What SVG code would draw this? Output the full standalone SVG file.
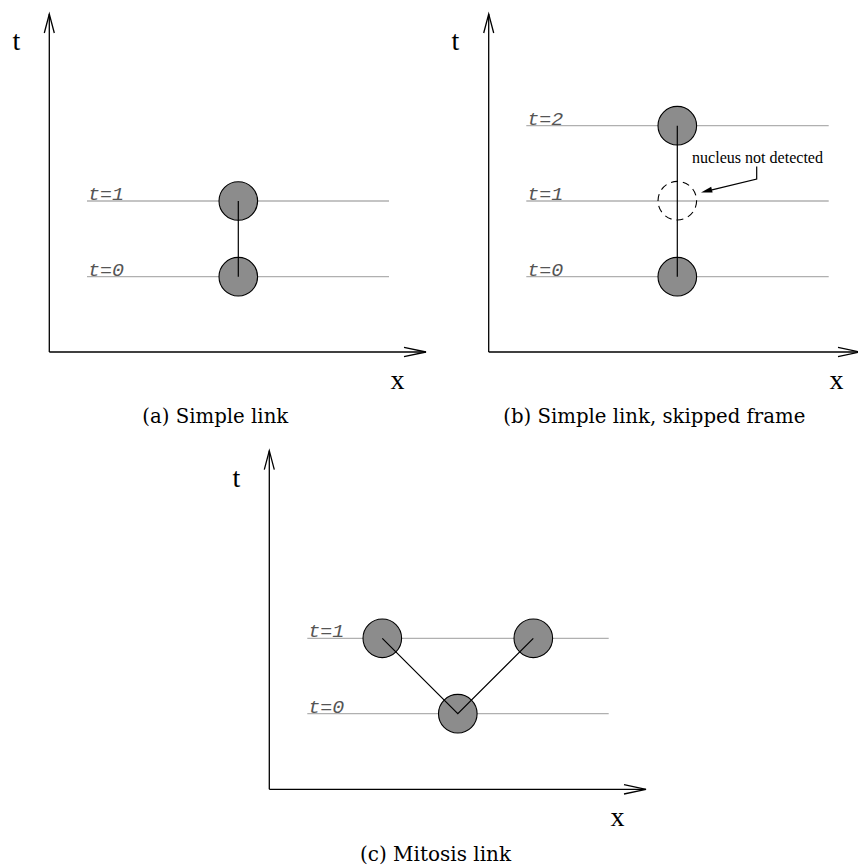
<svg xmlns="http://www.w3.org/2000/svg" width="858" height="867" viewBox="0 0 858 867">
<style>
.axis{stroke:#000;stroke-width:1.3;fill:none}
.grid{stroke:#b0b0b0;stroke-width:1.3}
.cell{fill:#8c8c8c;stroke:#000;stroke-width:1.1}
.link{stroke:#000;stroke-width:1.2;fill:none}
.lvl{font-family:"Liberation Mono",monospace;font-style:italic;font-size:18px;fill:#555}
.ax{font-family:"Liberation Serif",serif;font-size:28px;fill:#000}
.cap{font-family:"DejaVu Serif","Liberation Serif",serif;font-size:20px;fill:#000}
.note{font-family:"Liberation Serif",serif;font-size:16px;fill:#000}
</style>
<rect width="858" height="867" fill="#fff"/>

<!-- Panel (a) -->
<g id="panel-a">
  <g id="a-axes">
    <line class="axis" x1="49.3" y1="352" x2="49.3" y2="14"/>
    <polyline class="axis" points="44.3,33 49.3,14 54.3,33"/>
    <line class="axis" x1="49.3" y1="352" x2="426" y2="352"/>
    <polyline class="axis" points="404,347.3 426,352 404,356.7"/>
    <text class="ax" x="12.5" y="50">t</text>
    <text class="ax" x="390.5" y="389">x</text>
  </g>
  <g id="a-levels">
    <line class="grid" x1="87" y1="201" x2="389" y2="201"/>
    <line class="grid" x1="87" y1="276.7" x2="389" y2="276.7"/>
    <text class="lvl" x="88" y="200" textLength="36" lengthAdjust="spacingAndGlyphs">t=1</text>
    <text class="lvl" x="88" y="275.7" textLength="36" lengthAdjust="spacingAndGlyphs">t=0</text>
  </g>
  <g id="a-n1"><circle class="cell" cx="238.3" cy="201" r="19.3"/></g>
  <g id="a-n0"><circle class="cell" cx="238.3" cy="276.7" r="19.3"/></g>
  <g id="a-connectors">
    <line class="link" x1="238.3" y1="201" x2="238.3" y2="276.7"/>
  </g>
  <text class="cap" x="142.3" y="423" textLength="146" lengthAdjust="spacingAndGlyphs">(a) Simple link</text>
</g>

<!-- Panel (b) -->
<g id="panel-b">
  <g id="b-axes">
    <line class="axis" x1="488.7" y1="352" x2="488.7" y2="14"/>
    <polyline class="axis" points="483.7,33 488.7,14 493.7,33"/>
    <line class="axis" x1="488.7" y1="352" x2="860" y2="352"/>
    <polyline class="axis" points="838,347.3 860,352 838,356.7"/>
    <text class="ax" x="451.5" y="50">t</text>
    <text class="ax" x="829.5" y="389">x</text>
  </g>
  <g id="b-levels">
    <line class="grid" x1="526.3" y1="125.7" x2="828.7" y2="125.7"/>
    <line class="grid" x1="526.3" y1="201" x2="828.7" y2="201"/>
    <line class="grid" x1="526.3" y1="276.7" x2="828.7" y2="276.7"/>
    <text class="lvl" x="527.3" y="124.7" textLength="36" lengthAdjust="spacingAndGlyphs">t=2</text>
    <text class="lvl" x="527.3" y="200" textLength="36" lengthAdjust="spacingAndGlyphs">t=1</text>
    <text class="lvl" x="527.3" y="275.7" textLength="36" lengthAdjust="spacingAndGlyphs">t=0</text>
  </g>
  <g id="b-n2"><circle class="cell" cx="677.3" cy="125.7" r="19.3"/></g>
  <g id="b-n1-missing"><circle cx="677.3" cy="200.7" r="19.3" fill="none" stroke="#000" stroke-width="1.1" stroke-dasharray="7 5"/></g>
  <g id="b-n0"><circle class="cell" cx="677.3" cy="276.7" r="19.3"/></g>
  <g id="b-connectors">
    <line class="link" x1="677.3" y1="125.7" x2="677.3" y2="276.7"/>
    <polyline class="link" stroke-width="1.1" points="756.7,166.5 756.7,179 712,189.8"/>
    <polygon points="701,192.5 712.6,192.6 711.2,186.8" fill="#000"/>
  </g>
  <text class="note" x="692" y="163" textLength="131" lengthAdjust="spacingAndGlyphs">nucleus not detected</text>
  <text class="cap" x="503.3" y="423" textLength="302" lengthAdjust="spacingAndGlyphs">(b) Simple link, skipped frame</text>
</g>

<!-- Panel (c) -->
<g id="panel-c">
  <g id="c-axes">
    <line class="axis" x1="269.3" y1="789.3" x2="269.3" y2="450.7"/>
    <polyline class="axis" points="264.3,469.7 269.3,450.7 274.3,469.7"/>
    <line class="axis" x1="269.3" y1="789.3" x2="646" y2="789.3"/>
    <polyline class="axis" points="624,784.6 646,789.3 624,794"/>
    <text class="ax" x="232.5" y="486.7">t</text>
    <text class="ax" x="610.5" y="826">x</text>
  </g>
  <g id="c-levels">
    <line class="grid" x1="307.3" y1="638.3" x2="608.7" y2="638.3"/>
    <line class="grid" x1="307.3" y1="713.7" x2="608.7" y2="713.7"/>
    <text class="lvl" x="308.3" y="637.3" textLength="36" lengthAdjust="spacingAndGlyphs">t=1</text>
    <text class="lvl" x="308.3" y="712.7" textLength="36" lengthAdjust="spacingAndGlyphs">t=0</text>
  </g>
  <g id="c-n1a"><circle class="cell" cx="382.3" cy="638.3" r="19.3"/></g>
  <g id="c-n1b"><circle class="cell" cx="533.3" cy="638.3" r="19.3"/></g>
  <g id="c-n0"><circle class="cell" cx="457.8" cy="713.7" r="19.3"/></g>
  <g id="c-connectors">
    <polyline class="link" points="382.3,638.3 457.8,713.7 533.3,638.3"/>
  </g>
  <text class="cap" x="360" y="861" textLength="151" lengthAdjust="spacingAndGlyphs">(c) Mitosis link</text>
</g>
</svg>
